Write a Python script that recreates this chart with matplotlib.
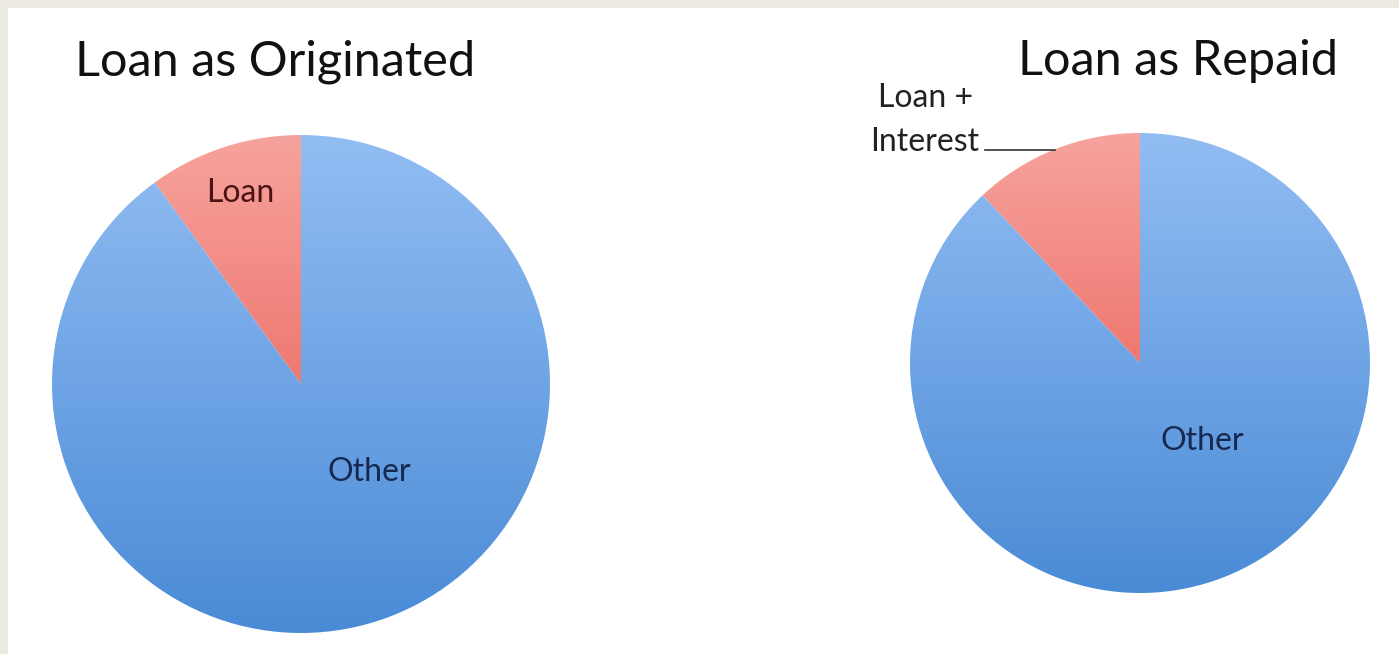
import numpy as np
import matplotlib
matplotlib.use("Agg")
import matplotlib.pyplot as plt
from matplotlib.patches import Rectangle
from matplotlib.colors import LinearSegmentedColormap

# Shares of the borrower's budget, in percent
originated_labels = ["Loan", "Other"]
originated_values = [10, 90]
repaid_labels = ["Loan +\nInterest", "Other"]
repaid_values = [12, 88]

titles = ["Loan as Originated", "Loan as Repaid"]

W, H = 1399, 654
fig = plt.figure(figsize=(W / 100, H / 100), dpi=100, facecolor="#edebe1")
ax = fig.add_axes([0, 0, 1, 1])
ax.set_xlim(0, W)
ax.set_ylim(0, H)
ax.set_aspect("equal")
ax.axis("off")

# white slide area
ax.add_patch(Rectangle((8, 0), W - 8, H - 8, facecolor="white", edgecolor="none", zorder=0))

blue_cmap = LinearSegmentedColormap.from_list("blue", ["#4a8bd6", "#92bdf3"])
red_cmap = LinearSegmentedColormap.from_list("red", ["#e64c45", "#f7a39d"])
grad = np.linspace(0, 1, 256).reshape(-1, 1)


def gradient_pie(values, center, radius):
    wedges, _ = ax.pie(values, center=center, radius=radius, startangle=90,
                       counterclock=True, frame=True,
                       wedgeprops=dict(facecolor="none", edgecolor="none"))
    cx, cy = center
    extent = (cx - radius, cx + radius, cy - radius, cy + radius)
    for w, cmap in zip(wedges, [red_cmap, blue_cmap]):
        im = ax.imshow(grad, cmap=cmap, extent=extent, origin="lower",
                       aspect="auto", zorder=1, interpolation="bilinear")
        im.set_clip_path(w)
    return wedges


gradient_pie(originated_values, (301, H - 384), 249)
gradient_pie(repaid_values, (1140, H - 363), 230)
ax.set_xlim(0, W)
ax.set_ylim(0, H)
ax.axis("off")

title_font = dict(family="Lato", fontsize=35, color="#111111")
ax.text(75, H - 76, titles[0], ha="left", va="baseline", **title_font)
ax.text(1018, H - 75, titles[1], ha="left", va="baseline", **title_font)

label_font = dict(family="Lato", fontsize=23)
ax.text(240, H - 193, originated_labels[0], ha="center", va="center",
        color="#4a1414", zorder=3, **label_font)
ax.text(369, H - 472, originated_labels[1], ha="center", va="center",
        color="#17284f", zorder=3, **label_font)
ax.text(1202, H - 441, repaid_labels[1], ha="center", va="center",
        color="#17284f", zorder=3, **label_font)

first, second = repaid_labels[0].split("\n")
small_font = dict(family="Lato", fontsize=23, color="#222222")
ax.text(878, H - 107, first, ha="left", va="baseline", **small_font)
ax.text(870, H - 151, second, ha="left", va="baseline", **small_font)
ax.plot([985, 1055], [H - 150, H - 150], color="#333333", lw=1.2, zorder=3)

fig.savefig("out.png", dpi=100, facecolor=fig.get_facecolor())
